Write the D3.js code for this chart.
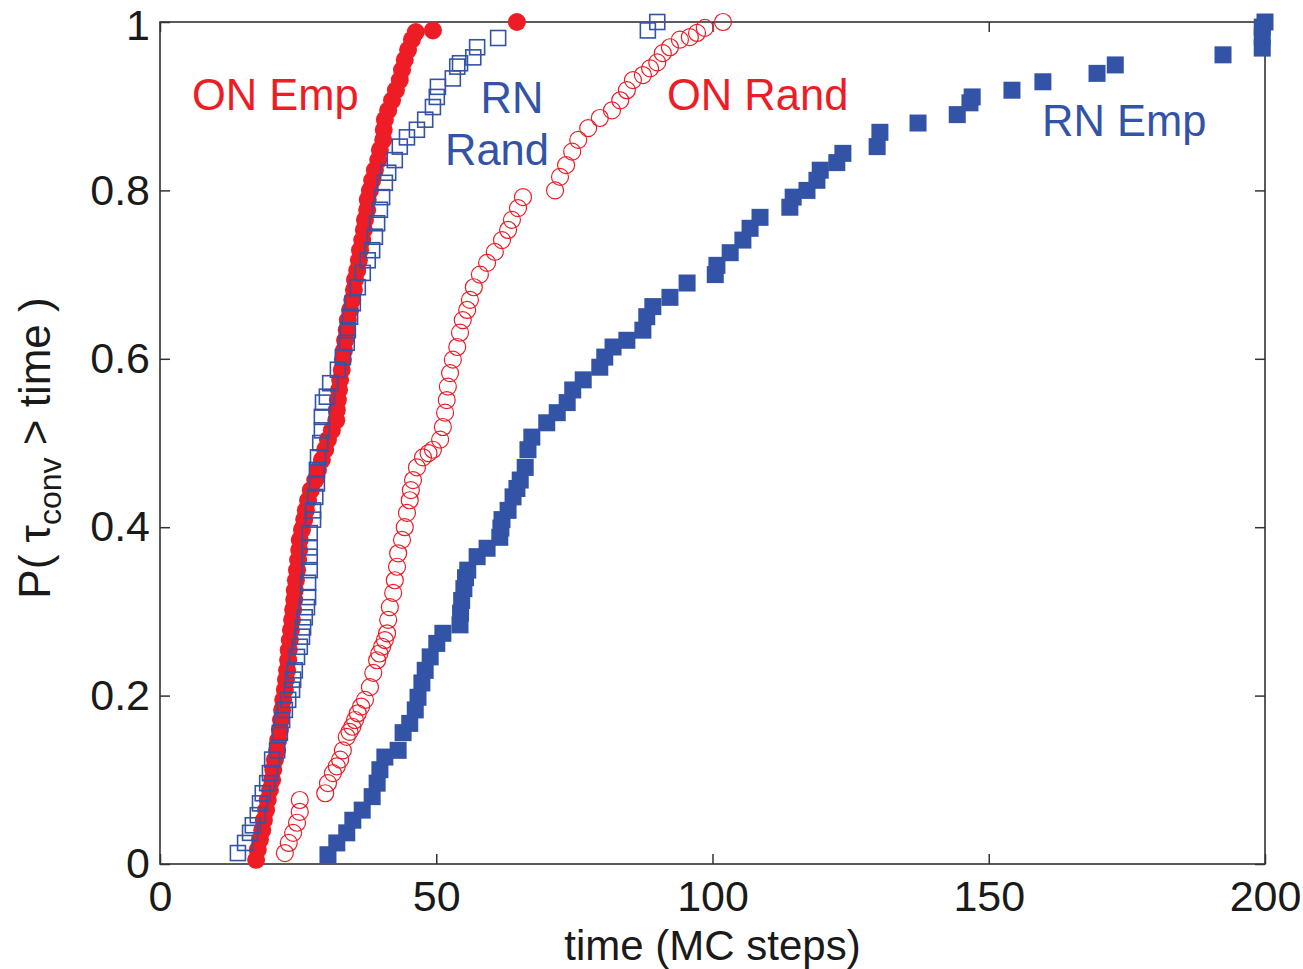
<!DOCTYPE html>
<html><head><meta charset="utf-8">
<script src="https://cdn.jsdelivr.net/npm/d3@7"></script>
<style>
html,body{margin:0;padding:0;background:#fff;}
svg{display:block;font-family:"Liberation Sans",Arial,sans-serif;}
</style></head>
<body>
<svg id="chart" width="1303" height="969"></svg>
<script>
// ---- data: [time (MC steps), P(tau_conv > time)] ----
const onEmp = [[17.4,0.005],[17.7,0.017],[18.1,0.029],[18.5,0.040],[18.8,0.052],[19.2,0.064],[19.5,0.076],[19.9,0.088],[20.3,0.100],[20.5,0.112],[20.8,0.124],[21.2,0.135],[21.4,0.147],[21.7,0.159],[21.9,0.171],[22.1,0.183],[22.3,0.195],[22.6,0.207],[22.8,0.219],[23.0,0.230],[23.2,0.242],[23.3,0.254],[23.5,0.266],[23.7,0.278],[23.9,0.290],[24.1,0.302],[24.3,0.314],[24.4,0.325],[24.6,0.337],[24.8,0.349],[25.0,0.361],[25.2,0.373],[25.3,0.385],[25.7,0.397],[26.1,0.409],[26.4,0.420],[26.8,0.432],[27.3,0.444],[28.1,0.456],[28.6,0.468],[29.3,0.480],[29.9,0.492],[30.4,0.504],[31.1,0.515],[31.9,0.527],[32.0,0.539],[32.2,0.551],[32.4,0.563],[32.6,0.575],[32.9,0.587],[33.1,0.599],[33.3,0.610],[33.5,0.622],[33.8,0.634],[34.0,0.646],[34.4,0.658],[34.8,0.670],[35.1,0.682],[35.3,0.694],[35.7,0.705],[36.0,0.717],[36.2,0.729],[36.6,0.741],[36.9,0.753],[37.1,0.765],[37.5,0.777],[37.6,0.789],[38.0,0.800],[38.4,0.812],[38.9,0.824],[39.5,0.836],[39.8,0.848],[40.4,0.860],[40.5,0.872],[40.7,0.884],[41.3,0.895],[42.0,0.907],[42.7,0.919],[43.4,0.931],[43.8,0.943],[44.3,0.955],[44.9,0.967],[45.6,0.979],[46.3,0.988],[49.4,0.990],[64.6,1.0]];

const rnRand = [[14.1,0.013],[15.4,0.025],[16.3,0.037],[16.8,0.046],[17.7,0.058],[18.1,0.072],[18.6,0.084],[19.4,0.096],[19.9,0.108],[20.3,0.124],[21.2,0.135],[21.7,0.156],[22.1,0.171],[22.6,0.183],[23.2,0.195],[23.9,0.207],[24.1,0.219],[24.4,0.230],[24.8,0.246],[25.3,0.258],[25.7,0.270],[25.9,0.281],[26.2,0.293],[26.6,0.305],[26.8,0.317],[26.8,0.334],[27.1,0.349],[27.1,0.365],[27.1,0.376],[27.1,0.393],[27.7,0.409],[27.7,0.420],[28.1,0.436],[28.4,0.452],[28.4,0.468],[28.6,0.483],[29.0,0.500],[29.3,0.515],[29.3,0.531],[29.5,0.548],[30.2,0.555],[30.8,0.571],[32.2,0.587],[33.1,0.602],[33.8,0.619],[34.0,0.634],[34.4,0.650],[34.9,0.666],[35.8,0.685],[36.7,0.702],[37.6,0.717],[38.4,0.729],[38.9,0.745],[39.3,0.761],[39.8,0.777],[40.2,0.792],[40.7,0.809],[41.3,0.821],[42.5,0.836],[43.4,0.852],[44.7,0.863],[46.5,0.872],[48.0,0.884],[49.4,0.899],[50.1,0.911],[50.3,0.923],[53.0,0.933],[53.8,0.947],[54.3,0.951],[56.7,0.958],[57.4,0.970],[61.2,0.981],[88.3,0.990],[90.0,1.0]];

const onRand = [[22.6,0.013],[23.3,0.025],[24.1,0.037],[24.8,0.049],[25.3,0.062],[25.3,0.076],[29.9,0.084],[30.4,0.096],[31.3,0.108],[32.0,0.116],[32.6,0.124],[33.1,0.135],[33.8,0.151],[34.3,0.157],[34.8,0.163],[35.3,0.171],[35.8,0.179],[36.4,0.187],[37.1,0.195],[38.0,0.210],[38.6,0.227],[39.3,0.242],[39.7,0.250],[40.2,0.258],[40.7,0.266],[41.1,0.274],[41.3,0.290],[41.6,0.305],[42.2,0.322],[42.5,0.337],[42.9,0.353],[43.1,0.369],[43.8,0.385],[44.3,0.400],[44.7,0.417],[45.2,0.432],[45.4,0.444],[45.8,0.456],[46.5,0.471],[47.6,0.483],[48.6,0.488],[49.4,0.492],[50.7,0.504],[51.2,0.519],[51.6,0.536],[51.9,0.551],[52.1,0.567],[52.5,0.583],[53.0,0.599],[53.8,0.614],[54.3,0.631],[54.8,0.646],[55.6,0.658],[56.1,0.670],[56.8,0.685],[57.9,0.700],[59.2,0.714],[60.6,0.727],[61.9,0.741],[63.0,0.753],[63.7,0.765],[64.8,0.779],[65.7,0.792],[71.5,0.800],[72.4,0.816],[73.5,0.830],[74.6,0.846],[75.7,0.860],[77.5,0.874],[79.6,0.886],[81.8,0.895],[83.3,0.907],[84.5,0.919],[85.6,0.931],[87.4,0.937],[88.7,0.945],[90.0,0.952],[91.0,0.963],[92.3,0.970],[94.1,0.979],[95.9,0.982],[97.2,0.987],[98.6,0.993],[101.9,1.0]];

const rnEmp = [[30.4,0.011],[32.0,0.025],[33.8,0.037],[34.9,0.052],[36.6,0.064],[38.4,0.080],[39.3,0.096],[39.8,0.112],[40.7,0.127],[43.1,0.135],[44.0,0.156],[45.2,0.167],[46.2,0.183],[46.7,0.198],[47.4,0.215],[48.0,0.230],[48.9,0.246],[50.1,0.262],[51.2,0.274],[54.3,0.284],[54.4,0.298],[54.6,0.313],[55.0,0.327],[55.3,0.340],[55.7,0.349],[57.4,0.365],[59.2,0.375],[61.5,0.388],[61.7,0.399],[61.9,0.409],[63.0,0.420],[63.9,0.436],[64.6,0.446],[65.2,0.456],[66.1,0.471],[66.6,0.492],[67.3,0.507],[70.0,0.524],[71.9,0.536],[73.7,0.548],[74.7,0.563],[76.6,0.575],[79.6,0.590],[80.5,0.602],[82.0,0.614],[84.5,0.622],[87.4,0.634],[88.1,0.650],[89.2,0.662],[92.3,0.673],[95.4,0.690],[100.5,0.700],[100.8,0.711],[103.2,0.726],[105.5,0.741],[106.8,0.755],[108.6,0.768],[114.0,0.780],[114.6,0.792],[117.1,0.800],[118.9,0.812],[119.5,0.824],[122.5,0.833],[123.6,0.844],[129.8,0.852],[130.3,0.869],[137.2,0.880],[144.3,0.890],[146.6,0.904],[147.0,0.911],[154.2,0.919],[159.8,0.929],[169.6,0.939],[172.9,0.949],[192.4,0.961],[199.5,0.969],[199.5,0.982],[199.5,0.994],[200,1.0]];

const xTicks = [0, 50, 100, 150, 200];
const yTicks = [0, 0.2, 0.4, 0.6, 0.8, 1];
const xTickLabels = ["0", "50", "100", "150", "200"];
const yTickLabels = ["0", "0.2", "0.4", "0.6", "0.8", "1"];
const seriesLabels = ["ON Emp", "RN Rand", "ON Rand", "RN Emp"];

// ---- layout ----
const RED = "#ee1c25", BLUE = "#3353a6";
const svg = d3.select("#chart");
const L = 160, R = 1265, T = 22, B = 864;
const x = d3.scaleLinear().domain([0, 200]).range([L, R]);
const y = d3.scaleLinear().domain([0, 1]).range([B, T]);

// axes (ticks inside)
const axisColor = "#333";
const fs = 43;
const gx = svg.append("g").attr("transform", `translate(0,${B})`)
  .call(d3.axisBottom(x).tickValues(xTicks).tickFormat((d,i)=>xTickLabels[i]).tickSizeInner(-10).tickSizeOuter(0).tickPadding(16));
const gy = svg.append("g").attr("transform", `translate(${L},0)`)
  .call(d3.axisLeft(y).tickValues(yTicks).tickFormat((d,i)=>yTickLabels[i]).tickSizeInner(-10).tickSizeOuter(0).tickPadding(10));
const gxt = svg.append("g").attr("transform", `translate(0,${T})`)
  .call(d3.axisTop(x).tickValues(xTicks).tickFormat("").tickSizeInner(-10).tickSizeOuter(0));
const gyr = svg.append("g").attr("transform", `translate(${R},0)`)
  .call(d3.axisRight(y).tickValues(yTicks).tickFormat("").tickSizeInner(-10).tickSizeOuter(0));
[gx, gy, gxt, gyr].forEach(g => {
  g.select(".domain").remove();
  g.selectAll(".tick line").attr("stroke", axisColor).attr("stroke-width", 1.5);
  g.selectAll(".tick text").attr("fill", "#1a1a1a").style("font-size", fs + "px")
   .style("font-family", "'Liberation Sans', Arial, sans-serif");
});
gx.selectAll(".tick text").attr("dy", "0.71em");
// keep the top label inside the picture
gy.selectAll(".tick text").filter(d => d === 1).attr("y", 4);
svg.append("rect").attr("x", L).attr("y", T).attr("width", R - L).attr("height", B - T)
  .attr("fill", "none").attr("stroke", axisColor).attr("stroke-width", 1.6);

// series
const plot = svg.append("g");
plot.append("g").selectAll("circle").data(onEmp).join("circle")
  .attr("cx", d => x(d[0])).attr("cy", d => y(d[1])).attr("r", 9).attr("fill", RED);
plot.append("g").selectAll("rect").data(rnRand).join("rect")
  .attr("x", d => x(d[0]) - 7.5).attr("y", d => y(d[1]) - 7.5).attr("width", 15).attr("height", 15)
  .attr("fill", "none").attr("stroke", BLUE).attr("stroke-width", 1.6);
plot.append("g").selectAll("circle").data(onRand).join("circle")
  .attr("cx", d => x(d[0])).attr("cy", d => y(d[1])).attr("r", 8.5)
  .attr("fill", "none").attr("stroke", RED).attr("stroke-width", 1.2);
plot.append("g").selectAll("rect").data(rnEmp).join("rect")
  .attr("x", d => x(d[0]) - 8.5).attr("y", d => y(d[1]) - 8.5).attr("width", 17).attr("height", 17)
  .attr("fill", BLUE);

// series labels
const lab = svg.append("g").style("font-size", "43.5px");
lab.append("text").attr("x", 192).attr("y", 110).attr("fill", RED).text(seriesLabels[0]);
const rr = seriesLabels[1].split(" ");
lab.append("text").attr("x", 512).attr("y", 113).attr("fill", BLUE).attr("text-anchor", "middle").text(rr[0]);
lab.append("text").attr("x", 497).attr("y", 165).attr("fill", BLUE).attr("text-anchor", "middle").text(rr[1]);
lab.append("text").attr("x", 667).attr("y", 110).attr("fill", RED).text(seriesLabels[2]);
lab.append("text").attr("x", 1042).attr("y", 136).attr("fill", BLUE).text(seriesLabels[3]);

// axis titles
svg.append("text").attr("x", (L + R) / 2).attr("y", 960).attr("text-anchor", "middle")
  .attr("fill", "#1a1a1a").style("font-size", "42px").text("time (MC steps)");
const yl = svg.append("text").attr("transform", "translate(50,448) rotate(-90)")
  .attr("text-anchor", "middle").attr("fill", "#1a1a1a").style("font-size", "44px");
yl.append("tspan").text("P( τ");
yl.append("tspan").attr("dy", 11).style("font-size", "32px").text("conv");
yl.append("tspan").attr("dy", -11).text(" > time )");
</script>
</body></html>
